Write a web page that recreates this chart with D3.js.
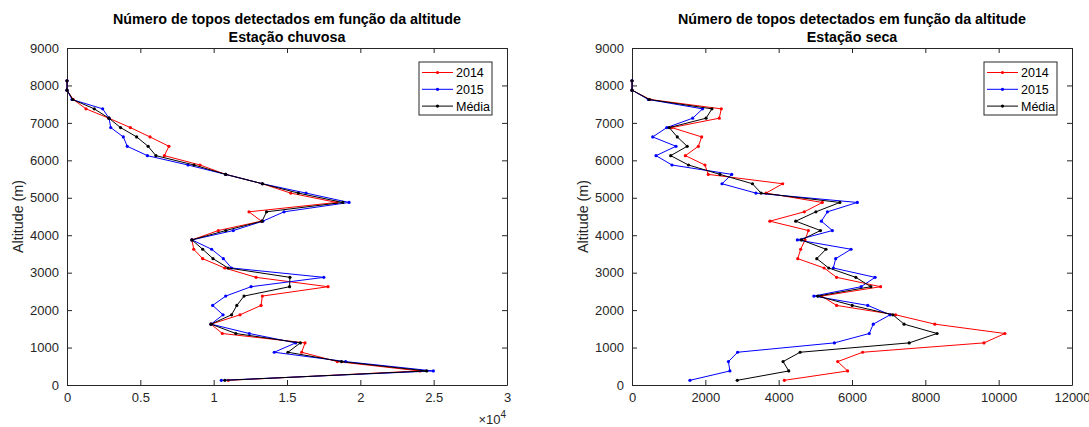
<!DOCTYPE html>
<html>
<head>
<meta charset="utf-8">
<script src="https://cdn.jsdelivr.net/npm/d3@7/dist/d3.min.js"></script>
<style>
  html, body { margin: 0; padding: 0; background: #ffffff; }
  svg { display: block; font-family: "Liberation Sans", Arial, Helvetica, sans-serif; }
  .tick text { fill: #262626; font-size: 13px; }
  .domain, .tick line { stroke: #262626; }
</style>
</head>
<body>
<svg id="chart" width="1089" height="427"></svg>
<script>
// Altitude bins (m), bottom to top
const altitudes = [125, 375, 625, 875, 1125, 1375, 1625, 1875, 2125, 2375, 2625, 2875, 3125, 3375,
  3625, 3875, 4125, 4375, 4625, 4875, 5125, 5375, 5625, 5875, 6125, 6375, 6625, 6875, 7125, 7375,
  7625, 7875, 8125];

// Rainy season counts
const chuvosa2014 = [11000, 24070, 18430, 16000, 16230, 10590, 9820, 11800, 13230, 13320, 17800, 12890,
  10750, 9250, 8640, 8520, 10320, 13250, 12410, 18390, 15250, 13320, 10820, 9070, 6640, 6950, 5660,
  4320, 2850, 1295, 430, 0, 0];
const chuvosa2015 = [10520, 24980, 19000, 14130, 15590, 12430, 9820, 10640, 9930, 10820, 12550, 17510,
  11220, 10660, 9860, 8520, 11340, 13350, 14800, 19230, 16300, 13320, 10820, 8250, 5480, 4110, 3840,
  2980, 2870, 2430, 340, 0, 0];
const chuvosaMedia = [10760, 24525, 18715, 15065, 15910, 11510, 9820, 11220, 11580, 12070, 15175, 15200,
  10985, 9955, 9250, 8520, 10830, 13300, 13605, 18810, 15775, 13320, 10820, 8660, 6060, 5530, 4750,
  3650, 2860, 1860, 385, 0, 0];

// Dry season counts
const seca2014 = [4155, 5880, 5610, 6290, 9600, 10170, 8260, 7190, 5580, 5170, 6780, 5580, 5240, 4520,
  4600, 4720, 4810, 3760, 4700, 5190, 3655, 4110, 2080, 1990, 1455, 1810, 1900, 1080, 2380, 2435,
  490, 0, 0];
const seca2015 = [1580, 2670, 2630, 2880, 5520, 6470, 6580, 7040, 6430, 4960, 6250, 6630, 5490, 5555,
  5975, 4510, 5465, 5165, 5330, 6145, 3380, 2455, 2720, 1090, 655, 1200, 565, 950, 1655, 1925,
  445, 0, 0];
const secaMedia = [2870, 4275, 4120, 4585, 7560, 8320, 7420, 7115, 6005, 5065, 6515, 6105, 5365, 5040,
  5290, 4615, 5140, 4465, 5015, 5670, 3520, 3285, 2400, 1540, 1055, 1505, 1235, 1015, 2020, 2180,
  470, 0, 0];

const yTicks = [0, 1000, 2000, 3000, 4000, 5000, 6000, 7000, 8000, 9000];
const xTicksChuvosa = [0, 5000, 10000, 15000, 20000, 25000, 30000];
const xTicksSeca = [0, 2000, 4000, 6000, 8000, 10000, 12000];

const seriesNames = ["2014", "2015", "Média"];
const seriesColors = ["#ff0000", "#0000ff", "#000000"];

const svg = d3.select("#chart");

function panel(opts) {
  const { left, top, width, height, xMax, xTicks, xFormat, series, title1, title2, showExp } = opts;
  const g = svg.append("g").attr("transform", `translate(${left},${top})`);
  const x = d3.scaleLinear().domain([0, xMax]).range([0, width]);
  const y = d3.scaleLinear().domain([0, 9000]).range([height, 0]);

  // box axes with inward ticks
  g.append("g").attr("transform", `translate(0,${height})`)
    .call(d3.axisBottom(x).tickValues(xTicks).tickFormat(xFormat).tickSizeInner(-5).tickSizeOuter(0).tickPadding(8));
  g.append("g")
    .call(d3.axisTop(x).tickValues(xTicks).tickFormat("").tickSizeInner(-5).tickSizeOuter(0));
  g.append("g")
    .call(d3.axisLeft(y).tickValues(yTicks).tickFormat(d3.format("d")).tickSizeInner(-5).tickSizeOuter(0).tickPadding(8));
  g.append("g").attr("transform", `translate(${width},0)`)
    .call(d3.axisRight(y).tickValues(yTicks).tickFormat("").tickSizeInner(-5).tickSizeOuter(0));
  g.selectAll(".domain").attr("stroke-width", 1);

  const line = d3.line().x(d => x(d[0])).y(d => y(d[1]));
  series.forEach((vals, i) => {
    const pts = vals.map((v, k) => [v, altitudes[k]]);
    g.append("path").datum(pts)
      .attr("fill", "none").attr("stroke", seriesColors[i]).attr("stroke-width", 1)
      .attr("d", line);
    g.append("g").selectAll("circle").data(pts).join("circle")
      .attr("cx", d => x(d[0])).attr("cy", d => y(d[1])).attr("r", 1.6)
      .attr("fill", seriesColors[i]);
  });

  // titles
  g.append("text").attr("x", width / 2).attr("y", -24).attr("text-anchor", "middle")
    .attr("font-size", 14.3).attr("font-weight", "bold").attr("fill", "#000").text(title1);
  g.append("text").attr("x", width / 2).attr("y", -6).attr("text-anchor", "middle")
    .attr("font-size", 14.3).attr("font-weight", "bold").attr("fill", "#000").text(title2);

  // y label
  g.append("text").attr("transform", `translate(-44,${height / 2}) rotate(-90)`)
    .attr("text-anchor", "middle").attr("font-size", 14.3).attr("fill", "#262626").text("Altitude (m)");

  if (showExp) {
    const t = g.append("text").attr("x", width - 1).attr("y", height + 39).attr("text-anchor", "end")
      .attr("font-size", 13).attr("fill", "#262626");
    t.append("tspan").text("×10");
    t.append("tspan").attr("font-size", 10).attr("dy", -6).text("4");
  }

  // legend
  const lgW = 73, lgH = 53;
  const lg = g.append("g").attr("transform", `translate(${width - 15 - lgW},14)`);
  lg.append("rect").attr("width", lgW).attr("height", lgH)
    .attr("fill", "#fff").attr("stroke", "#262626").attr("stroke-width", 1);
  seriesNames.forEach((name, i) => {
    const yy = 10.5 + i * 16.8;
    lg.append("line").attr("x1", 3).attr("x2", 34).attr("y1", yy).attr("y2", yy)
      .attr("stroke", seriesColors[i]).attr("stroke-width", 1);
    lg.append("circle").attr("cx", 18.5).attr("cy", yy).attr("r", 1.6).attr("fill", seriesColors[i]);
    lg.append("text").attr("x", 37).attr("y", yy + 4.5).attr("font-size", 12.5)
      .attr("fill", "#000").text(name);
  });
}

panel({
  left: 67, top: 48, width: 440, height: 337,
  xMax: 30000, xTicks: xTicksChuvosa, xFormat: d => d3.format("~g")(d / 10000),
  series: [chuvosa2014, chuvosa2015, chuvosaMedia],
  title1: "Número de topos detectados em função da altitude",
  title2: "Estação chuvosa", showExp: true
});
panel({
  left: 632, top: 48, width: 440, height: 337,
  xMax: 12000, xTicks: xTicksSeca, xFormat: d3.format("d"),
  series: [seca2014, seca2015, secaMedia],
  title1: "Número de topos detectados em função da altitude",
  title2: "Estação seca", showExp: false
});
</script>
</body>
</html>
